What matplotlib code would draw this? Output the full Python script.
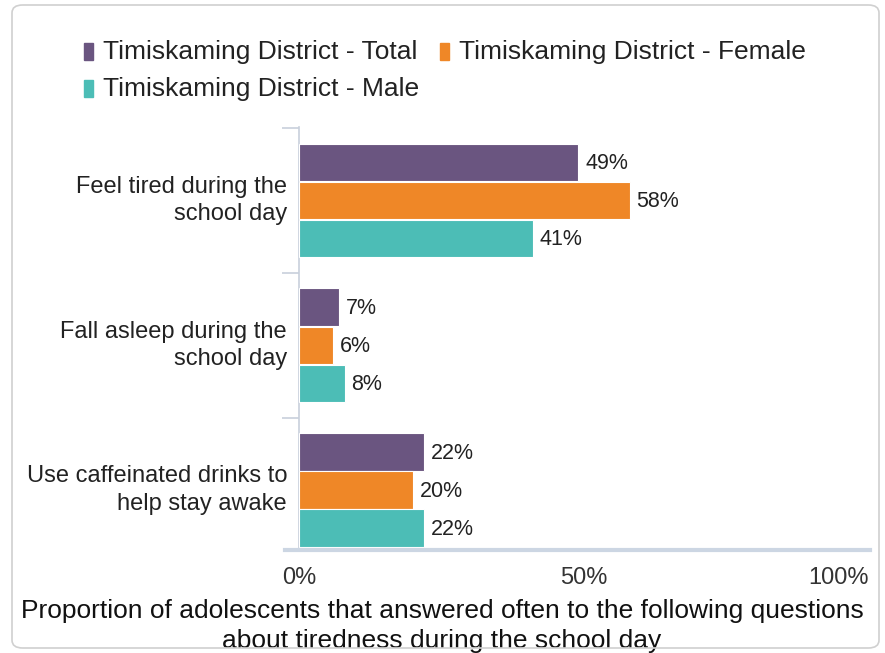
import matplotlib
matplotlib.use("Agg")
import matplotlib.pyplot as plt
from matplotlib.patches import FancyBboxPatch, Rectangle
import numpy as np

plt.rcParams['font.family'] = ['Liberation Sans', 'DejaVu Sans']

categories = ["Feel tired during the\nschool day",
              "Fall asleep during the\nschool day",
              "Use caffeinated drinks to\nhelp stay awake"]
series_names = ["Timiskaming District - Total",
                "Timiskaming District - Female",
                "Timiskaming District - Male"]
total = [49, 7, 22]
female = [58, 6, 20]
male = [41, 8, 22]
xticks = [0, 50, 100]
xtick_labels = ["0%", "50%", "100%"]
title = ("Proportion of adolescents that answered often to the following questions\n"
         "about tiredness during the school day")

colors = ["#6a5580", "#ef8727", "#4cbdb6"]

W, H = 885, 653
fig = plt.figure(figsize=(W / 100, H / 100), dpi=100, facecolor="white")

# border box
box = FancyBboxPatch((12 / W, 5 / H), (879 - 12) / W, (648 - 5) / H,
                     boxstyle="round,pad=0,rounding_size=0.012",
                     transform=fig.transFigure, facecolor="none",
                     edgecolor="#d0d0d0", linewidth=1.2, zorder=5)
fig.patches.append(box)

left, right = 299 / W, 869 / W
bottom, top = 1 - 550 / H, 1 - 127 / H
ax = fig.add_axes([left, bottom, right - left, top - bottom])
ax.set_facecolor("none")

y = np.arange(len(categories))
h = 0.258
data = [total, female, male]
for i, (vals, c) in enumerate(zip(data, colors)):
    pos = y + (i - 1) * (h + 0.005)
    ax.barh(pos, vals, height=h, color=c, edgecolor="white", linewidth=0.8, zorder=3)
    for p, v in zip(pos, vals):
        ax.text(v + 1.2, p + 0.01, f"{v}%", va="center", ha="left", fontsize=15.5, color="#222222")

ax.set_xlim(0, 100)
ax.set_ylim(2.414, -0.507)

ax.set_xticks(xticks)
ax.set_xticklabels(xtick_labels, fontsize=17, color="#333333")
ax.tick_params(axis="x", length=0, pad=12)
lbls = ax.get_xticklabels()
lbls[-1].set_ha("right")

ax.set_yticks([-0.5, 0.5, 1.5])
ax.set_yticklabels([])
ax.tick_params(axis="y", length=12, color="#c8d0dc", width=1.2)
for yc, cat in zip(y, categories):
    ax.text(-0.021, yc, cat, transform=ax.get_yaxis_transform(), ha="right", va="center",
            fontsize=17, color="#222222", linespacing=1.32, multialignment="right")

for s in ["top", "right"]:
    ax.spines[s].set_visible(False)
ax.spines["left"].set_color("#c8d0dc")
ax.spines["left"].set_linewidth(1.2)
ax.spines["bottom"].set_visible(False)
# bottom axis line extends slightly
fig.add_artist(plt.Line2D([285 / W, 870 / W], [1 - 550 / H, 1 - 550 / H],
                          transform=fig.transFigure, color="#ccd6e3", linewidth=3))

# legend
leg_items = [(84, 52, 0), (440, 52, 1), (84, 89, 2)]
for xp, yp, k in leg_items:
    fig.patches.append(Rectangle((xp / W, 1 - (yp + 8) / H), 9 / W, 17 / H,
                                 transform=fig.transFigure, color=colors[k]))
    fig.text((xp + 19) / W, 1 - yp / H, series_names[k], ha="left", va="center",
             fontsize=19, color="#222222")

fig.text(442 / W, 1 - 626 / H, title, ha="center", va="center", fontsize=19,
         color="#111111", linespacing=1.35)

fig.savefig("out.png", dpi=100)
